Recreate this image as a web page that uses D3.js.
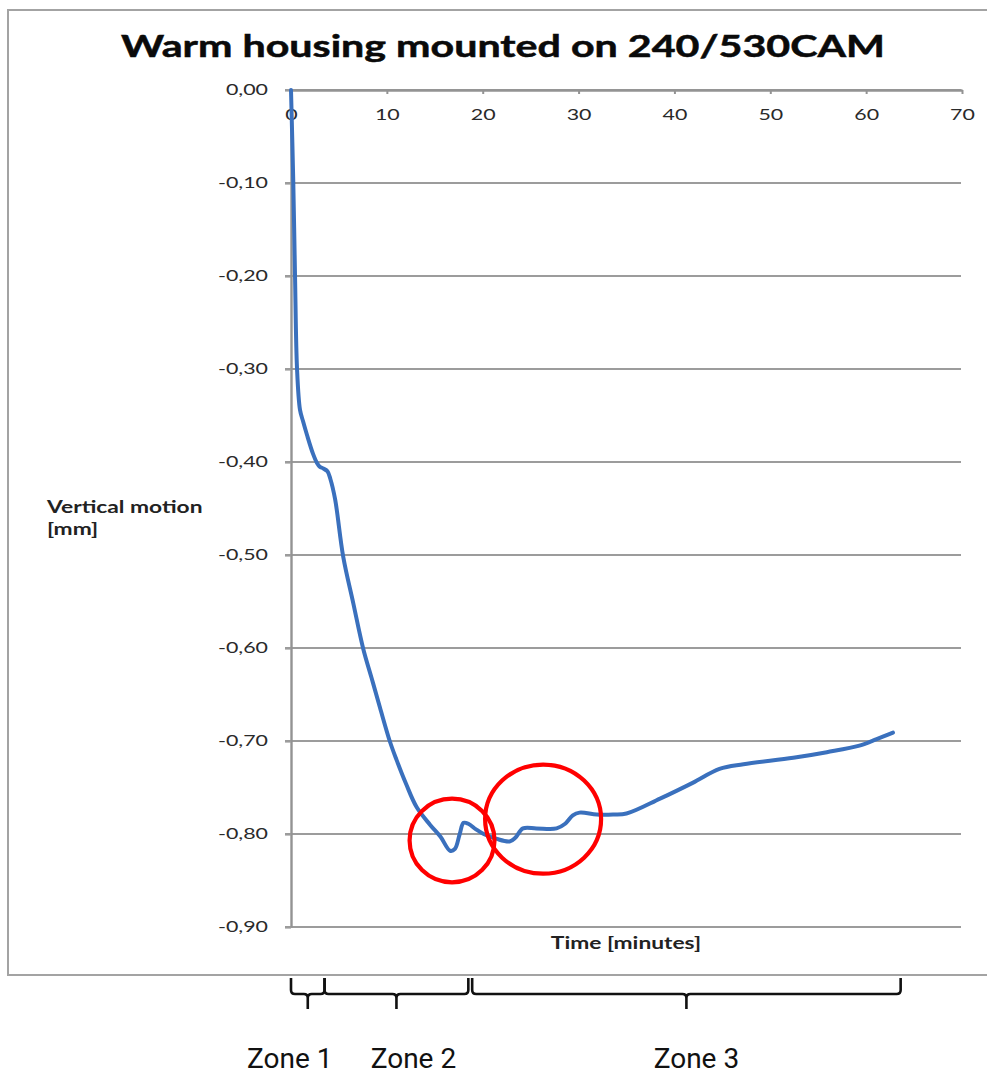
<!DOCTYPE html>
<html>
<head>
<meta charset="utf-8">
<script src="https://cdn.jsdelivr.net/npm/d3@7/dist/d3.min.js"></script>
<style>
  html, body { margin: 0; padding: 0; background: #ffffff; }
  svg { display: block; }
</style>
</head>
<body>
<svg id="chart" width="987" height="1075"></svg>
<script>
// Time after mounting, minutes
const timeMin = [0, 0.24, 0.42, 0.63, 0.94, 1.25, 1.67, 2.29, 2.71, 3.0, 3.37, 3.8, 4.1, 4.6,
  5.45, 6.5, 7.54, 8.4, 9.28, 10.3, 11.0, 12.0, 13.1, 14.5, 15.6, 16.6, 17.1, 17.6, 18.0,
  18.5, 19.3, 20.1, 21.4, 22.8, 23.4, 24.2, 25.6, 27.7, 28.6, 29.4, 30.1, 31.9, 33.6, 35.0,
  38.5, 41.9, 44.7, 47.2, 52.4, 55.9, 59.3, 61.1, 62.8];
// Vertical motion of the housing, mm
const motionMm = [0, -0.10, -0.20, -0.30, -0.344, -0.356, -0.371, -0.391, -0.401, -0.405, -0.407,
  -0.410, -0.418, -0.440, -0.502, -0.552, -0.601, -0.632, -0.664, -0.700, -0.720, -0.746,
  -0.771, -0.790, -0.803, -0.818, -0.816, -0.800, -0.788, -0.789, -0.795, -0.800, -0.805,
  -0.808, -0.804, -0.794, -0.794, -0.794, -0.789, -0.780, -0.777, -0.779, -0.779, -0.778,
  -0.762, -0.745, -0.730, -0.725, -0.718, -0.712, -0.705, -0.698, -0.691];

const xTicks = [0, 10, 20, 30, 40, 50, 60, 70];
const yTicks = [0, -0.1, -0.2, -0.3, -0.4, -0.5, -0.6, -0.7, -0.8, -0.9];

// Highlighted settling events: centre (min, mm) and radii (min, mm)
const markCentreT = [16.8, 26.3];
const markCentreV = [-0.807, -0.784];
const markRadiusT = [4.43, 6.05];
const markRadiusV = [0.045, 0.0587];

// Zones along the time axis
const zoneNames = ["Zone 1", "Zone 2", "Zone 3"];
const zoneStart = [0, 3.5, 18.9];
const zoneEnd = [3.5, 18.5, 63.6];

const titleText = "Warm housing mounted on 240/530CAM";
const yLabelLines = ["Vertical motion", "[mm]"];
const xLabelText = "Time [minutes]";

// ---- layout ----
const svg = d3.select("#chart");
const W = 987, H = 1075;
const plot = { left: 291, right: 962, top: 90, bottom: 927 };
const stretchK = 1.38;          // wide rendering of the chart lettering
const calibriLike = "Lato, 'Open Sans', sans-serif";
const zoneLabelShift = [-18, 17, 10];

svg.append("rect").attr("width", W).attr("height", H).attr("fill", "#ffffff");

// outer chart frame (open on the right)
svg.append("path")
  .attr("d", `M${W + 5},10 H8 V975 H${W + 5}`)
  .attr("fill", "none").attr("stroke", "#a3a3a3").attr("stroke-width", 2);

const x = d3.scaleLinear().domain([0, 70]).range([plot.left, plot.right]);
const y = d3.scaleLinear().domain([-0.9, 0]).range([plot.bottom, plot.top]);

function stretch(sel, k) {
  sel.each(function () {
    const w = this.getComputedTextLength();
    d3.select(this).attr("textLength", w * k).attr("lengthAdjust", "spacingAndGlyphs");
  });
}

// horizontal gridlines
svg.append("g").selectAll("line").data(yTicks).join("line")
  .attr("x1", plot.left - 6).attr("x2", plot.right - 1)
  .attr("y1", d => y(d)).attr("y2", d => y(d))
  .attr("stroke", "#9c9c9c").attr("stroke-width", 2.2);

// y axis
const locale = d3.formatLocale({ decimal: ",", thousands: ".", grouping: [3], currency: ["", ""], minus: "-" });
const fmtY = locale.format(".2f");
const yAxis = svg.append("g")
  .attr("transform", `translate(${plot.left},0)`)
  .call(d3.axisLeft(y).tickValues(yTicks).tickFormat(fmtY).tickSize(6).tickSizeOuter(0).tickPadding(17));
yAxis.select(".domain").attr("stroke", "#939393").attr("stroke-width", 2.4);
yAxis.selectAll(".tick line").attr("stroke", "#9c9c9c").attr("stroke-width", 2.2);
yAxis.selectAll(".tick text")
  .attr("font-family", calibriLike).attr("font-size", 15.5).attr("fill", "#2a2a2a")
  .call(stretch, stretchK);

// x axis along the top edge, labels below it
const xAxis = svg.append("g")
  .attr("transform", `translate(0,${plot.top})`)
  .call(d3.axisBottom(x).tickValues(xTicks).tickSize(4).tickSizeOuter(0).tickPadding(15));
xAxis.select(".domain").attr("stroke", "#939393").attr("stroke-width", 2.4);
xAxis.selectAll(".tick line").attr("stroke", "#939393").attr("stroke-width", 2);
xAxis.selectAll(".tick text")
  .attr("font-family", calibriLike).attr("font-size", 15.5).attr("fill", "#2a2a2a")
  .call(stretch, stretchK);

// measured curve
const line = d3.line()
  .x(d => x(d[0])).y(d => y(d[1]))
  .curve(d3.curveCatmullRom.alpha(0.5));
svg.append("path")
  .datum(timeMin.map((t, i) => [t, motionMm[i]]))
  .attr("d", line)
  .attr("fill", "none").attr("stroke", "#3a70bd").attr("stroke-width", 4)
  .attr("stroke-linejoin", "round").attr("stroke-linecap", "round");

// highlight rings
svg.append("g").selectAll("ellipse").data(markCentreT).join("ellipse")
  .attr("cx", d => x(d))
  .attr("cy", (d, i) => y(markCentreV[i]))
  .attr("rx", (d, i) => x(markRadiusT[i]) - x(0))
  .attr("ry", (d, i) => y(0) - y(markRadiusV[i]) )
  .attr("fill", "none").attr("stroke", "#ff0000").attr("stroke-width", 4.2);

// title
svg.append("text")
  .attr("x", 503).attr("y", 57).attr("text-anchor", "middle")
  .attr("font-family", calibriLike).attr("font-weight", 700).attr("font-size", 30.5)
  .attr("fill", "#0a0a0a").attr("stroke", "#0a0a0a").attr("stroke-width", 0.5)
  .text(titleText)
  .call(stretch, 1.35);

// axis titles
svg.append("g").selectAll("text").data(yLabelLines).join("text")
  .attr("x", 47).attr("y", (d, i) => 513 + i * 22)
  .attr("font-family", calibriLike).attr("font-weight", 700).attr("font-size", 16.5)
  .attr("fill", "#222222").text(d => d)
  .call(stretch, stretchK);

svg.append("text")
  .attr("x", 626).attr("y", 949).attr("text-anchor", "middle")
  .attr("font-family", calibriLike).attr("font-weight", 700).attr("font-size", 16.5)
  .attr("fill", "#222222").text(xLabelText)
  .call(stretch, stretchK);

// zone braces under the chart
function bracePath(x0, x1, yTop, yMid, yTip) {
  const m = (x0 + x1) / 2, r = 4;
  return `M${x0},${yTop} V${yMid - r} Q${x0},${yMid} ${x0 + r},${yMid} H${m - r}` +
    ` Q${m},${yMid} ${m},${yMid + r} V${yTip}` +
    ` M${m},${yMid + r} Q${m},${yMid} ${m + r},${yMid} H${x1 - r}` +
    ` Q${x1},${yMid} ${x1},${yMid - r} V${yTop}`;
}
svg.append("g").selectAll("path").data(zoneNames).join("path")
  .attr("d", (d, i) => bracePath(x(zoneStart[i]), x(zoneEnd[i]), 978, 994, 1009))
  .attr("fill", "none").attr("stroke", "#111111").attr("stroke-width", 2.6);

svg.append("g").selectAll("text").data(zoneNames).join("text")
  .attr("x", (d, i) => (x(zoneStart[i]) + x(zoneEnd[i])) / 2 + zoneLabelShift[i])
  .attr("y", 1068).attr("text-anchor", "middle")
  .attr("font-family", "Roboto, 'Liberation Sans', sans-serif").attr("font-size", 28)
  .attr("fill", "#111111").text(d => d);
</script>
</body>
</html>
